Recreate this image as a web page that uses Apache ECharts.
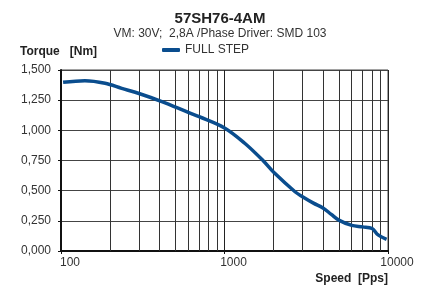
<!DOCTYPE html>
<html>
<head>
<meta charset="utf-8">
<script src="https://cdn.jsdelivr.net/npm/echarts@6/dist/echarts.min.js"></script>
<style>
  html, body { margin: 0; padding: 0; background: #fff; }
  #chart { width: 429px; height: 288px; }
</style>
</head>
<body>
<div id="chart"></div>
<script>
// curve
const speed = [103, 140, 186, 235, 300, 410, 600, 700, 1000, 1330, 1730, 2000, 2700, 3000, 3500, 4000, 4500, 5000, 6000, 7000, 8000, 8700, 9800];
const torque = [1.398, 1.411, 1.39, 1.348, 1.305, 1.24, 1.149, 1.113, 1.02, 0.893, 0.746, 0.652, 0.491, 0.45, 0.397, 0.357, 0.303, 0.256, 0.212, 0.2, 0.186, 0.133, 0.097];

// log grid lines between decades
const minorLines = [200, 300, 400, 500, 600, 700, 800, 900, 2000, 3000, 4000, 5000, 6000, 7000, 8000, 9000];

const chart = echarts.init(document.getElementById("chart"));

const fmt = (v) => v.toFixed(3).replace(".", ",");

const option = {
  animation: false,
  backgroundColor: "#fff",
  textStyle: { fontFamily: "Liberation Sans, Arial, sans-serif" },
  title: {
    text: "57SH76-4AM",
    subtext: "VM: 30V;  2,8A /Phase Driver: SMD 103",
    left: 215,
    textAlign: "center",
    top: 6,
    itemGap: 2,
    textStyle: { fontSize: 15, fontWeight: "bold", color: "#222" },
    subtextStyle: { fontSize: 12, color: "#333" },
  },
  legend: {
    top: 39,
    left: 157,
    itemWidth: 18,
    itemHeight: 4,
    itemGap: 4,
    icon: "roundRect",
    textStyle: { fontSize: 12, color: "#333" },
    data: ["FULL STEP"],
  },
  grid: {
    left: 61,
    right: 41,
    top: 70,
    bottom: 37,
    show: true,
    borderColor: "#444",
    borderWidth: 1,
  },
  xAxis: {
    type: "log",
    logBase: 10,
    min: 100,
    max: 10000,
    name: "Speed  [Pps]",
    nameLocation: "end",
    nameGap: 0,
    nameTextStyle: {
      fontSize: 12,
      fontWeight: "bold",
      color: "#222",
      align: "right",
      verticalAlign: "top",
      padding: [22, 0, 0, 0],
    },
    axisLine: { show: true, lineStyle: { color: "#111", width: 2 } },
    axisTick: { show: true, length: 3, lineStyle: { color: "#111" } },
    axisLabel: {
      fontSize: 12,
      color: "#333",
      margin: 6,
      padding: [0, 0, 0, 18],
      showMinLabel: true,
      showMaxLabel: true,
      formatter: (v) => String(Math.round(v)),
    },
    splitLine: { show: true, lineStyle: { color: "#222", width: 1 } },
  },
  yAxis: {
    type: "value",
    min: 0,
    max: 1.5,
    interval: 0.25,
    name: "Torque   [Nm]",
    nameLocation: "end",
    nameGap: 12,
    nameTextStyle: {
      fontSize: 12,
      fontWeight: "bold",
      color: "#222",
      align: "left",
      padding: [0, 0, 0, -41],
    },
    axisLine: { show: true, lineStyle: { color: "#111", width: 2 } },
    axisTick: { show: true, length: 3, lineStyle: { color: "#111" } },
    axisLabel: { fontSize: 12, color: "#333", margin: 10, formatter: fmt },
    splitLine: { show: true, lineStyle: { color: "#444", width: 1 } },
  },
  series: [
    {
      name: "FULL STEP",
      type: "line",
      smooth: 0.35,
      symbol: "none",
      color: "#0a4d8e",
      lineStyle: { width: 3.5, color: "#0a4d8e" },
      data: speed.map((s, i) => [s, torque[i]]),
      z: 5,
      markLine: {
        silent: true,
        symbol: "none",
        label: { show: false },
        lineStyle: { color: "#333", width: 1, type: "solid" },
        data: minorLines.map((v) => ({ xAxis: v })),
        z: 1,
      },
    },
  ],
};

chart.setOption(option);
</script>
</body>
</html>
